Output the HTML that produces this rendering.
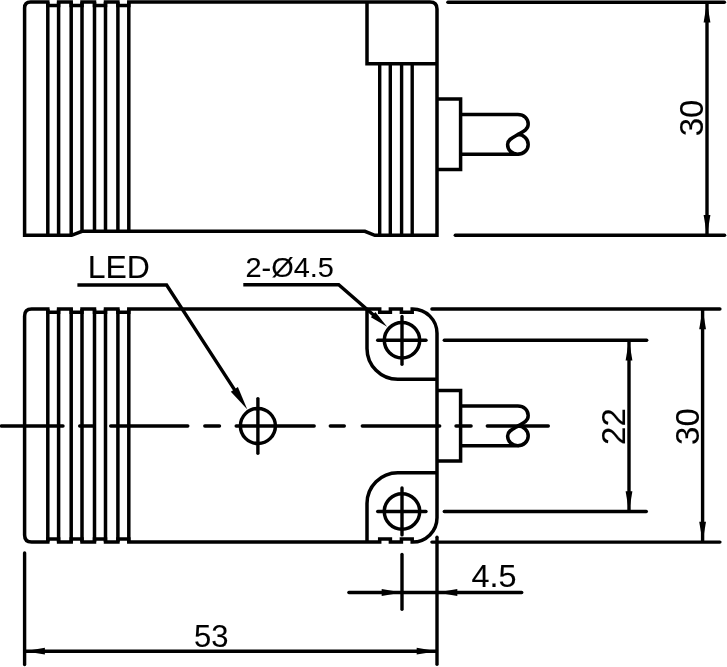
<!DOCTYPE html>
<html><head><meta charset="utf-8"><title>Drawing</title>
<style>
html,body{margin:0;padding:0;background:#fff;}
svg{display:block;will-change:transform;}
svg text{font-family:"Liberation Sans",Arial,sans-serif;fill:#000;stroke:#000;stroke-width:0.1px;}
</style></head><body>
<svg width="727" height="667" viewBox="0 0 727 667" stroke="#000" fill="none">
<path d="M24.6,235.3 V8.1 Q24.6,2.1 30.6,2.1 H47.8 V5.6 H58.6 V2.1 H71.2 V5.6 H82.0 V2.1 H94.5 V5.6 H105.5 V2.1 H117.9 V5.6 H128.8 V2.1 H430.0 Q437.0,2.1 437.0,9.1 V235.3 H374.8 L364.9,231.3 H82 L71.6,235.3 Z" stroke-width="3.5" stroke-linejoin="miter" fill="none"/>
<line x1="47.8" y1="2.1" x2="47.8" y2="235.3" stroke-width="3.5" stroke-linecap="butt"/>
<line x1="58.6" y1="2.1" x2="58.6" y2="235.3" stroke-width="3.5" stroke-linecap="butt"/>
<line x1="71.2" y1="2.1" x2="71.2" y2="235.3" stroke-width="3.5" stroke-linecap="butt"/>
<line x1="82.0" y1="2.1" x2="82.0" y2="231.3" stroke-width="3.5" stroke-linecap="butt"/>
<line x1="94.5" y1="2.1" x2="94.5" y2="231.3" stroke-width="3.5" stroke-linecap="butt"/>
<line x1="105.5" y1="2.1" x2="105.5" y2="231.3" stroke-width="3.5" stroke-linecap="butt"/>
<line x1="117.9" y1="2.1" x2="117.9" y2="231.3" stroke-width="3.5" stroke-linecap="butt"/>
<line x1="128.8" y1="2.1" x2="128.8" y2="231.3" stroke-width="3.5" stroke-linecap="butt"/>
<path d="M367,2.1 V63.7 H437.0" stroke-width="3.5" stroke-linejoin="miter" fill="none"/>
<line x1="379.7" y1="65.0" x2="379.7" y2="234.0" stroke-width="3.4" stroke-linecap="round"/>
<line x1="390.3" y1="65.0" x2="390.3" y2="234.0" stroke-width="3.4" stroke-linecap="round"/>
<line x1="401.6" y1="65.0" x2="401.6" y2="234.0" stroke-width="3.4" stroke-linecap="round"/>
<line x1="412.2" y1="65.0" x2="412.2" y2="234.0" stroke-width="3.4" stroke-linecap="round"/>
<path d="M437.0,99.10000000000001 H460.6 V169.5 H437.0" stroke-width="3.5" stroke-linejoin="miter" fill="none"/>
<path d="M460.6,114.4 H517.8 C524,114.4 528.2,118.7 528.2,124.0 C528.2,129.9 522.5,132.00000000000003 517.8,134.60000000000002 C512.5,137.60000000000002 507.6,139.60000000000002 507.6,144.4 C507.6,149.9 512,154.20000000000002 517.8,154.20000000000002 H460.6" stroke-width="3.5" stroke-linejoin="round" fill="none"/>
<path d="M517.8,134.60000000000002 C523.6,134.60000000000002 528.2,139.00000000000003 528.2,144.4 C528.2,149.9 523.6,154.20000000000002 517.8,154.20000000000002" stroke-width="3.5" stroke-linejoin="round" fill="none"/>
<line x1="447.9" y1="2.3" x2="724.4" y2="2.3" stroke-width="3.4" stroke-linecap="round"/>
<line x1="455.3" y1="235.3" x2="724.6" y2="235.3" stroke-width="3.4" stroke-linecap="round"/>
<line x1="707.0" y1="3.4" x2="707.0" y2="234.0" stroke-width="3.4" stroke-linecap="round"/>
<polygon points="707.00,2.30 710.40,22.60 703.60,22.60" fill="#000" stroke="none"/>
<polygon points="707.00,235.30 703.60,215.00 710.40,215.00" fill="#000" stroke="none"/>
<path d="M24.6,316.0 Q24.6,309.0 31.6,309.0 H47.8 V312.2 H58.6 V309.0 H71.2 V312.2 H82.0 V309.0 H94.5 V312.2 H105.5 V309.0 H117.9 V312.2 H128.8 V309.0 H379.7 V312.2 H390.4 V309.0 H401.4 V312.2 H412.2 V309.0 H412.6 A24.4,24.3 0 0 1 437.0,333.3 V517.8000000000001 A24.4,24.3 0 0 1 412.6,542.1 H412.2 V538.9 H401.4 V542.1 H390.4 V538.9 H379.7 V542.1 H128.8 V538.9 H117.9 V542.1 H105.5 V538.9 H94.5 V542.1 H82.0 V538.9 H71.2 V542.1 H58.6 V538.9 H47.8 V542.1 H31.6 Q24.6,542.1 24.6,535.1 Z" stroke-width="3.5" stroke-linejoin="miter" fill="none"/>
<line x1="47.8" y1="309.0" x2="47.8" y2="542.1" stroke-width="3.5" stroke-linecap="butt"/>
<line x1="58.6" y1="309.0" x2="58.6" y2="542.1" stroke-width="3.5" stroke-linecap="butt"/>
<line x1="71.2" y1="309.0" x2="71.2" y2="542.1" stroke-width="3.5" stroke-linecap="butt"/>
<line x1="82.0" y1="309.0" x2="82.0" y2="542.1" stroke-width="3.5" stroke-linecap="butt"/>
<line x1="94.5" y1="309.0" x2="94.5" y2="542.1" stroke-width="3.5" stroke-linecap="butt"/>
<line x1="105.5" y1="309.0" x2="105.5" y2="542.1" stroke-width="3.5" stroke-linecap="butt"/>
<line x1="117.9" y1="309.0" x2="117.9" y2="542.1" stroke-width="3.5" stroke-linecap="butt"/>
<line x1="128.8" y1="309.0" x2="128.8" y2="542.1" stroke-width="3.5" stroke-linecap="butt"/>
<path d="M367,309.0 V348.4 A30.8,30.8 0 0 0 397.8,379.2 H437.0" stroke-width="3.5" stroke-linejoin="miter" fill="none"/>
<path d="M367,542.1 V503.5 A30.8,30.8 0 0 1 397.8,472.7 H437.0" stroke-width="3.5" stroke-linejoin="miter" fill="none"/>
<circle cx="402" cy="340.3" r="17.7" stroke-width="3.5" fill="none"/>
<line x1="377.7" y1="340.3" x2="426.0" y2="340.3" stroke-width="3.4" stroke-linecap="round"/>
<line x1="402.0" y1="316.4" x2="402.0" y2="364.3" stroke-width="3.4" stroke-linecap="round"/>
<circle cx="402" cy="511.5" r="17.7" stroke-width="3.5" fill="none"/>
<line x1="377.7" y1="511.5" x2="426.0" y2="511.5" stroke-width="3.4" stroke-linecap="round"/>
<line x1="402.0" y1="487.9" x2="402.0" y2="534.9" stroke-width="3.4" stroke-linecap="round"/>
<circle cx="257.9" cy="426" r="17.5" stroke-width="3.5" fill="none"/>
<line x1="257.9" y1="398.6" x2="257.9" y2="453.2" stroke-width="3.4" stroke-linecap="round"/>
<path d="M437.0,390.6 H460.6 V461.0 H437.0" stroke-width="3.5" stroke-linejoin="miter" fill="none"/>
<path d="M460.6,405.90000000000003 H517.8 C524,405.90000000000003 528.2,410.20000000000005 528.2,415.50000000000006 C528.2,421.40000000000003 522.5,423.5 517.8,426.1 C512.5,429.1 507.6,431.1 507.6,435.9 C507.6,441.4 512,445.7 517.8,445.7 H460.6" stroke-width="3.5" stroke-linejoin="round" fill="none"/>
<path d="M517.8,426.1 C523.6,426.1 528.2,430.5 528.2,435.9 C528.2,441.4 523.6,445.7 517.8,445.7" stroke-width="3.5" stroke-linejoin="round" fill="none"/>
<line x1="1.3" y1="426.0" x2="63.0" y2="426.0" stroke-width="3.4" stroke-linecap="round"/>
<line x1="79.7" y1="426.0" x2="93.3" y2="426.0" stroke-width="3.4" stroke-linecap="round"/>
<line x1="110.7" y1="426.0" x2="187.8" y2="426.0" stroke-width="3.4" stroke-linecap="round"/>
<line x1="204.8" y1="426.0" x2="219.5" y2="426.0" stroke-width="3.4" stroke-linecap="round"/>
<line x1="236.2" y1="426.0" x2="314.2" y2="426.0" stroke-width="3.4" stroke-linecap="round"/>
<line x1="330.3" y1="426.0" x2="344.3" y2="426.0" stroke-width="3.4" stroke-linecap="round"/>
<line x1="362.3" y1="426.0" x2="439.7" y2="426.0" stroke-width="3.4" stroke-linecap="round"/>
<line x1="456.0" y1="426.0" x2="471.1" y2="426.0" stroke-width="3.4" stroke-linecap="round"/>
<line x1="487.3" y1="426.0" x2="548.3" y2="426.0" stroke-width="3.4" stroke-linecap="round"/>
<line x1="431.9" y1="309.0" x2="719.9" y2="309.0" stroke-width="3.4" stroke-linecap="round"/>
<line x1="431.9" y1="542.1" x2="719.9" y2="542.1" stroke-width="3.4" stroke-linecap="round"/>
<line x1="444.3" y1="340.3" x2="646.7" y2="340.3" stroke-width="3.4" stroke-linecap="round"/>
<line x1="444.3" y1="511.5" x2="646.3" y2="511.5" stroke-width="3.4" stroke-linecap="round"/>
<line x1="629.0" y1="341.6" x2="629.0" y2="510.2" stroke-width="3.4" stroke-linecap="round"/>
<polygon points="629.00,340.30 632.40,360.60 625.60,360.60" fill="#000" stroke="none"/>
<polygon points="629.00,511.50 625.60,491.20 632.40,491.20" fill="#000" stroke="none"/>
<line x1="702.6" y1="310.3" x2="702.6" y2="540.8" stroke-width="3.4" stroke-linecap="round"/>
<polygon points="702.60,309.00 706.00,329.30 699.20,329.30" fill="#000" stroke="none"/>
<polygon points="702.60,542.10 699.20,521.80 706.00,521.80" fill="#000" stroke="none"/>
<line x1="24.6" y1="552.9" x2="24.6" y2="664.5" stroke-width="3.4" stroke-linecap="round"/>
<line x1="437.0" y1="537.3" x2="437.0" y2="664.2" stroke-width="3.4" stroke-linecap="round"/>
<line x1="25.9" y1="651.2" x2="435.7" y2="651.2" stroke-width="3.4" stroke-linecap="round"/>
<polygon points="24.60,651.20 44.90,647.80 44.90,654.60" fill="#000" stroke="none"/>
<polygon points="437.00,651.20 416.70,654.60 416.70,647.80" fill="#000" stroke="none"/>
<line x1="402.0" y1="554.5" x2="402.0" y2="609.2" stroke-width="3.4" stroke-linecap="round"/>
<line x1="348.9" y1="592.5" x2="521.7" y2="592.5" stroke-width="3.4" stroke-linecap="round"/>
<polygon points="402.00,592.50 381.70,595.90 381.70,589.10" fill="#000" stroke="none"/>
<polygon points="437.00,592.50 457.30,589.10 457.30,595.90" fill="#000" stroke="none"/>
<path d="M77.4,285 H166.6 L239.49,397.32" stroke-width="3.4" stroke-linejoin="miter" fill="none"/>
<polygon points="247.20,409.20 230.83,391.69 237.88,387.12" fill="#000" stroke="none"/>
<path d="M243.3,284.7 H338.7 L378.72,319.52" stroke-width="3.4" stroke-linejoin="miter" fill="none"/>
<polygon points="387.10,326.80 370.91,317.22 375.37,312.09" fill="#000" stroke="none"/>
<text x="703.2" y="118" font-size="33" text-anchor="middle" transform="rotate(-90 703.2 118)">30</text>
<text x="699.2" y="426.6" font-size="33" text-anchor="middle" transform="rotate(-90 699.2 426.6)">30</text>
<text x="624.9" y="426.6" font-size="33" text-anchor="middle" transform="rotate(-90 624.9 426.6)">22</text>
<text x="211.2" y="647.3" font-size="31" text-anchor="middle">53</text>
<text x="493.9" y="587.4" font-size="31" text-anchor="middle" textLength="45.0" lengthAdjust="spacingAndGlyphs">4.5</text>
<text x="118.85" y="278.1" font-size="31" text-anchor="middle" textLength="62.1" lengthAdjust="spacingAndGlyphs">LED</text>
<text x="289.65" y="277.4" font-size="27" text-anchor="middle" textLength="88.4" lengthAdjust="spacingAndGlyphs">2-Ø4.5</text>
</svg>
</body></html>
